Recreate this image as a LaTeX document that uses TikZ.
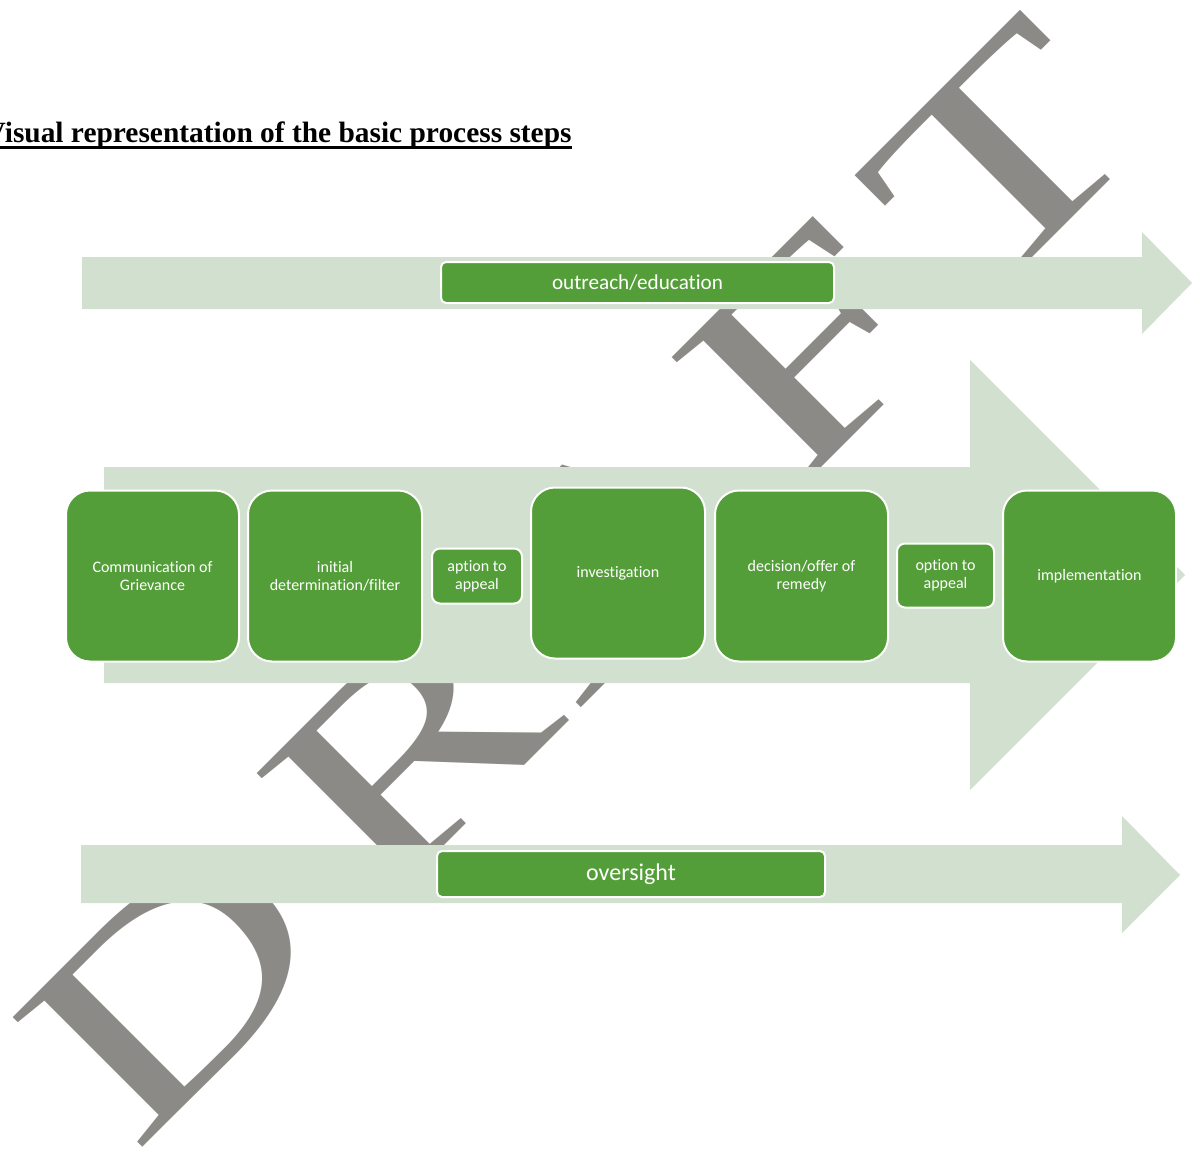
\documentclass[tikz,border=0pt]{standalone}
\usepackage{fontspec}
\newfontfamily\carlito{Carlito}[Ligatures=NoCommon]
\newfontfamily\titlefont{Liberation Serif}
\definecolor{arrowfill}{RGB}{210,224,207}
\definecolor{boxgreen}{RGB}{84,158,57}
\definecolor{wmgray}{RGB}{139,138,134}
\tikzset{
  stepbox/.style={fill=boxgreen, draw=white, line width=1pt, rounded corners=12pt,
    align=center, text=white, inner sep=0pt,
    font=\carlito\fontsize{8}{9}\selectfont},
  smallbox/.style={stepbox, rounded corners=4pt},
  barbox/.style={fill=boxgreen, draw=white, line width=1pt, rounded corners=2.5pt,
    text=white, inner sep=0pt},
  wmletter/.style={rotate=45, xscale=1.45, anchor=base west, inner sep=0pt,
    text=wmgray, font=\titlefont\fontsize{140}{140}\selectfont},
  bigarrow/.style={fill=arrowfill, draw=none}
}
\begin{document}
\begin{tikzpicture}[x=0.5pt, y=-0.5pt]
\useasboundingbox (0,0) rectangle (1192,1155);
\fill[white] (0,0) rectangle (1192,1155);
% watermark
\node[wmletter] (wD) at (134.4,1155.5) {D};
\node[wmletter] (wR) at (378.3,911.6) {R};
\node[wmletter] (wA) at (578.4,711.4) {A};
\node[wmletter] (wF) at (793.5,496.4) {F};
\node[wmletter] (wT) at (978.7,311.1) {T};
% title
\node[anchor=base east, inner sep=0pt, font=\titlefont\bfseries\fontsize{14.7}{16}\selectfont] (title) at (572,143) {Visual representation of the basic process steps};
\draw[line width=1.5pt] ([yshift=-2.3pt]title.base west) -- ([yshift=-2.3pt]title.base east);
% arrows
\fill[bigarrow] (82,257) -- (1142,257) -- (1142,232) -- (1192,283) -- (1142,334) -- (1142,309) -- (82,309) -- cycle;
\fill[bigarrow] (104,467) -- (970,467) -- (970,360) -- (1185,575) -- (970,790) -- (970,683) -- (104,683) -- cycle;
\fill[bigarrow] (81,845) -- (1122,845) -- (1122,816) -- (1180,875) -- (1122,933) -- (1122,903) -- (81,903) -- cycle;
% bar boxes
\node[barbox, minimum width=196.5pt, minimum height=20.5pt, font=\carlito\fontsize{10.6}{12}\selectfont] (outreach) at (637.5,282.5) {outreach/education};
\node[barbox, minimum width=194pt, minimum height=23pt, font=\carlito\fontsize{12}{14}\selectfont] (oversight) at (631,874) {oversight};
% step boxes
\node[stepbox, minimum width=86.5pt, minimum height=85.5pt] (comm) at (152.5,576) {Communication of\\Grievance};
\node[stepbox, minimum width=87pt, minimum height=85.5pt] (init) at (335,576) {initial\\determination/filter};
\node[smallbox, minimum width=45pt, minimum height=27.5pt] (app1) at (477,576) {aption to\\appeal};
\node[stepbox, minimum width=87pt, minimum height=85.5pt] (inv) at (618,573) {investigation};
\node[stepbox, minimum width=86.5pt, minimum height=85.5pt] (dec) at (801.5,576) {decision/offer of\\remedy};
\node[smallbox, minimum width=48.5pt, minimum height=32pt] (app2) at (945.5,575.5) {option to\\appeal};
\node[stepbox, minimum width=86.5pt, minimum height=85.5pt] (impl) at (1089.5,576) {implementation};
\end{tikzpicture}
\end{document}
